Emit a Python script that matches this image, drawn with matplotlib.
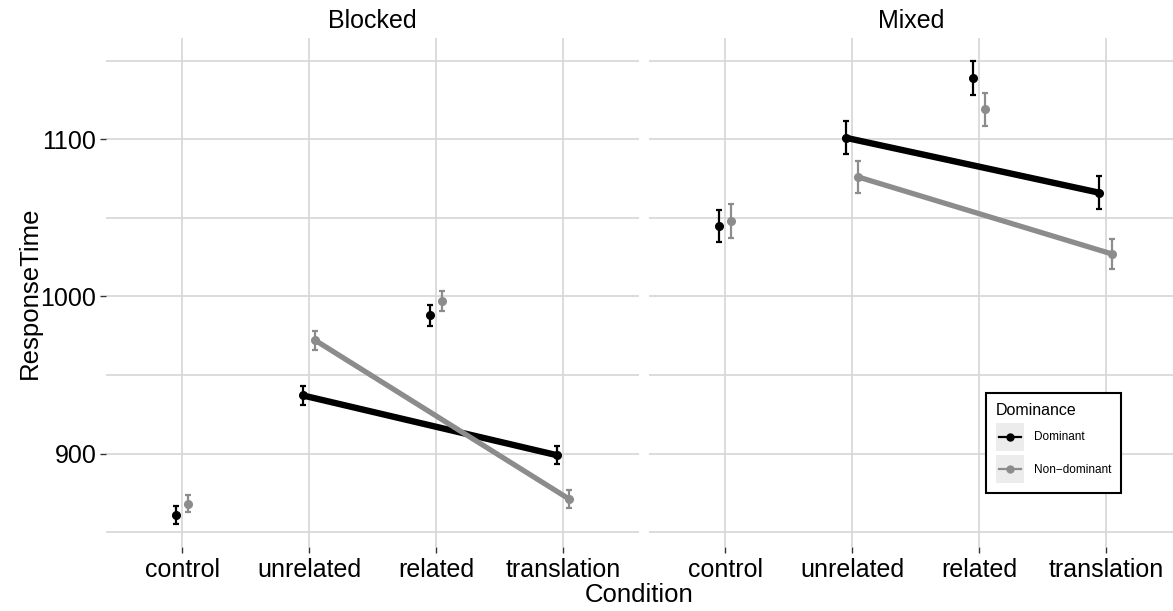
import matplotlib
matplotlib.use('Agg')
import matplotlib.pyplot as plt
import numpy as np
from matplotlib.legend_handler import HandlerBase
from matplotlib.lines import Line2D
from matplotlib.patches import Rectangle

plt.rcParams['font.family'] = ['Liberation Sans', 'DejaVu Sans']

conditions = ['control', 'unrelated', 'related', 'translation']
panels = ['Blocked', 'Mixed']

# mean response time and standard error per condition
blocked_dom = [861, 937, 988, 899]
blocked_dom_se = [5.8, 6.0, 6.8, 5.7]
blocked_non = [868, 972, 997, 871]
blocked_non_se = [5.3, 6.0, 6.3, 5.5]

mixed_dom = [1045, 1101, 1139, 1066]
mixed_dom_se = [10.2, 10.4, 10.7, 10.5]
mixed_non = [1048, 1076, 1119, 1027]
mixed_non_se = [10.6, 10.0, 10.4, 9.8]

data = {
    'Blocked': [(blocked_dom, blocked_dom_se), (blocked_non, blocked_non_se)],
    'Mixed': [(mixed_dom, mixed_dom_se), (mixed_non, mixed_non_se)],
}
groups = ['Dominant', 'Non\u2212dominant']
colors = ['black', '#8c8c8c']
line_widths = [4.6, 3.8]
dodge = [-0.05, 0.05]
trend = [1, 3]  # unrelated -> translation

grid_col = '#d6d6d6'
fs = 18

fig = plt.figure(figsize=(11.73, 6.11), dpi=100)
ax1 = fig.add_axes([106 / 1173, 1 - 547 / 611, 533 / 1173, 509 / 611])
ax2 = fig.add_axes([649 / 1173, 1 - 547 / 611, 524 / 1173, 509 / 611], sharey=ax1)

x = np.arange(len(conditions))
for ax, name in zip([ax1, ax2], panels):
    for (vals, se), col, lw, dx in zip(data[name], colors, line_widths, dodge):
        vals = np.array(vals)
        ax.plot(x[trend] + dx, vals[trend], color=col, lw=lw,
                solid_capstyle='round', zorder=3)
        ax.errorbar(x + dx, vals, yerr=se, fmt='o', color=col, ms=5.5,
                    elinewidth=1.6, capsize=2.5, capthick=1.6, zorder=4)
    ax.set_title(name, fontsize=fs, pad=7)
    ax.set_xticks(x)
    ax.set_xticklabels(conditions, fontsize=fs)
    ax.set_yticks([900, 1000, 1100])
    ax.set_yticks([850, 950, 1050, 1150], minor=True)
    ax.grid(True, which='both', color=grid_col, lw=1.2)
    ax.set_axisbelow(True)
    for s in ax.spines.values():
        s.set_visible(False)
    ax.tick_params(axis='x', length=4, width=1, color='#333333', pad=4)
    ax.tick_params(axis='y', length=4, width=1, color='#333333', pad=3,
                   labelsize=fs)
    ax.tick_params(axis='y', which='minor', length=0)

ax1.set_xlim(-0.6, 3.6)
ax2.set_xlim(-0.6, 3.53)
ax1.set_ylim(840.5, 1164.5)
ax2.tick_params(axis='y', left=False, labelleft=False)

fig.text(30 / 1173, 1 - 293 / 611, 'ResponseTime', rotation=90,
         fontsize=18.5, ha='center', va='center')
fig.text(639 / 1173, 1 - 595 / 611, 'Condition', fontsize=18.5,
         ha='center', va='center')


class KeyHandler(HandlerBase):
    # grey square key with a short line and point centred in it
    def create_artists(self, legend, orig_handle, xdescent, ydescent,
                       width, height, fontsize, trans):
        x0, y0 = -xdescent, -ydescent
        yc = y0 + height / 2
        bg = Rectangle((x0, y0), width, height, facecolor='#ececec',
                       edgecolor='none', transform=trans)
        pad = 0.1 * width
        ln = Line2D([x0 + pad, x0 + width - pad], [yc, yc],
                    color=orig_handle.get_color(), lw=orig_handle.get_linewidth(),
                    transform=trans)
        pt = Line2D([x0 + width / 2], [yc], marker='o', ls='none',
                    ms=orig_handle.get_markersize(),
                    color=orig_handle.get_color(), transform=trans)
        return [bg, ln, pt]


handles = [Line2D([], [], color=c, marker='o', ms=5, lw=1.6) for c in colors]
leg = fig.legend(handles, groups, title='Dominance', loc='upper left',
                 bbox_to_anchor=(986 / 1173, 1 - 393 / 611),
                 borderaxespad=0, fontsize=8.5, title_fontsize=11.5,
                 handlelength=2.35, handleheight=3.27, labelspacing=0.4,
                 handletextpad=0.85, borderpad=0.85, fancybox=False,
                 framealpha=1, edgecolor='black', alignment='left',
                 handler_map={Line2D: KeyHandler()})
leg.get_frame().set_linewidth(1.5)

fig.savefig('out.png', dpi=100, facecolor='white')
